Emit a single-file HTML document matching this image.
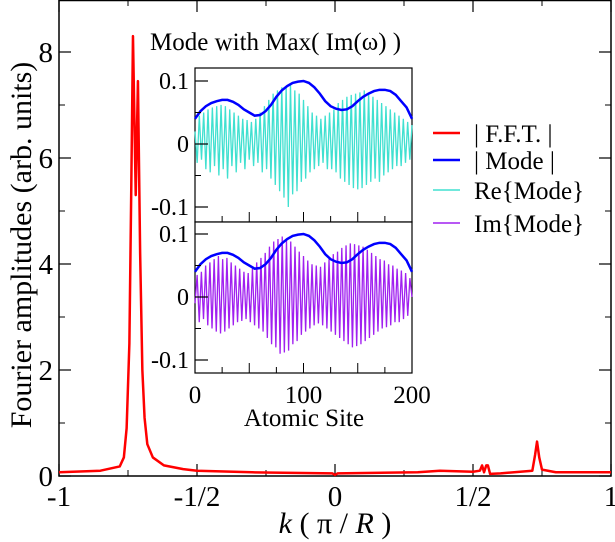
<!DOCTYPE html>
<html><head><meta charset="utf-8"><style>
body{margin:0;background:#fff}
svg{display:block}
svg text{font-family:"Liberation Serif","Times New Roman","DejaVu Serif",serif}
</style></head><body>
<svg width="615" height="542" viewBox="0 0 615 542" font-family="Liberation Serif, serif">
<g id="main"></g>
<g id="inset"></g>
<g font-size="25">
<line x1="433" y1="133" x2="460" y2="133" stroke="#ff0000" stroke-width="2.5"/>
<text x="474" y="142">| F.F.T. |</text>
<line x1="433" y1="160" x2="460" y2="160" stroke="#0000ff" stroke-width="2.5"/>
<text x="474" y="169">| Mode |</text>
<line x1="433" y1="190" x2="460" y2="190" stroke="#40e0d0" stroke-width="1.5"/>
<text x="474" y="199">Re{Mode}</text>
<line x1="433" y1="223" x2="460" y2="223" stroke="#a020f0" stroke-width="1.5"/>
<text x="474" y="232">Im{Mode}</text>
</g>
<text x="150" y="50" font-size="25">Mode with Max( Im(ω) )</text>
<text transform="translate(31,245) rotate(-90)" text-anchor="middle" font-size="30">Fourier amplitudes (arb. units)</text>
<text x="335" y="533" text-anchor="middle" font-size="30"><tspan font-style="italic">k</tspan> ( π / <tspan font-style="italic">R</tspan> )</text>
<text x="304" y="426" text-anchor="middle" font-size="25">Atomic Site</text>
</svg>
<script>
const fftK=[-1,-0.85,-0.78,-0.765,-0.755,-0.745,-0.738,-0.732,-0.722,-0.714,-0.706,-0.698,-0.69,-0.68,-0.66,-0.62,-0.55,-0.5,-0.3,-0.01,0,0.01,0.3,0.38,0.5,0.525,0.533,0.54,0.548,0.554,0.562,0.6,0.715,0.725,0.732,0.74,0.75,0.8,1];
const fftAmp=[0.07,0.1,0.18,0.35,0.9,2.5,5.5,8.3,5.3,7.45,4.2,2.0,1.1,0.6,0.35,0.2,0.13,0.1,0.07,0.05,0.02,0.05,0.07,0.1,0.08,0.1,0.2,0.07,0.2,0.2,0.04,0.05,0.1,0.4,0.65,0.35,0.12,0.07,0.07];
const xTicks=[-1,-0.5,0,0.5,1];
const xTickLabels=["-1","-1/2","0","1/2","1"];
const yTicks=[0,2,4,6,8];
const envSites=[0,5,10,15,20,25,30,35,40,45,50,55,60,65,70,75,80,85,90,95,100,105,110,115,120,125,130,135,140,145,150,155,160,165,170,175,180,185,190,195,200];
const envVals=[0.04,0.052,0.06,0.065,0.068,0.07,0.07,0.067,0.062,0.055,0.05,0.045,0.046,0.052,0.062,0.075,0.085,0.092,0.097,0.099,0.1,0.097,0.09,0.08,0.068,0.06,0.056,0.054,0.055,0.06,0.068,0.075,0.08,0.084,0.086,0.086,0.084,0.078,0.068,0.058,0.04];
const reVals=[20,-30,45,-25,50,-40,55,-45,58,-35,60,-50,62,-40,60,-55,55,-35,50,-45,45,-30,40,-40,38,-25,35,-35,40,-30,50,-45,60,-40,70,-55,80,-65,85,-75,90,-85,92,-100,95,-80,85,-75,80,-60,70,-55,60,-45,50,-40,45,-35,40,-30,45,-40,50,-40,55,-45,65,-55,70,-60,75,-65,78,-70,80,-72,82,-70,85,-65,80,-60,75,-55,70,-60,65,-50,60,-45,55,-40,50,-35,45,-35,40,-30,35,-25,30];
const imVals=[-10,35,-40,40,-35,50,-45,55,-50,60,-55,65,-58,60,-55,62,-50,55,-45,50,-40,45,-38,40,-35,38,-40,45,-45,55,-50,62,-55,70,-65,80,-75,88,-80,92,-90,96,-88,90,-85,88,-75,80,-70,72,-60,65,-55,58,-50,52,-45,50,-42,48,-45,55,-50,60,-55,68,-60,72,-65,78,-70,82,-75,85,-80,84,-78,82,-75,80,-70,75,-65,70,-60,65,-55,60,-50,58,-48,52,-45,50,-40,45,-40,42,-35,38,-30,30,0];
const NS="http://www.w3.org/2000/svg";
function mk(p,t,a){const e=document.createElementNS(NS,t);for(const k in a)e.setAttribute(k,a[k]);p.appendChild(e);return e;}
const X=k=>59+(k+1)*276, Y=v=>476-v*53;
const main=document.getElementById('main');
const frame=mk(main,'rect',{x:59,y:0.5,width:552,height:475.5,fill:'none',stroke:'#000','stroke-width':1.5});


xTicks.forEach((k,i)=>{
 mk(main,'line',{x1:X(k),y1:476,x2:X(k),y2:464,stroke:'#000','stroke-width':1.2});
 mk(main,'line',{x1:X(k),y1:0,x2:X(k),y2:12,stroke:'#000','stroke-width':1.2});
 const t=mk(main,'text',{x:X(k),y:506,'text-anchor':'middle','font-size':29});t.textContent=xTickLabels[i];
 
 
});
[-0.75,-0.25,0.25,0.75].forEach(k=>{mk(main,'line',{x1:X(k),y1:476,x2:X(k),y2:470,stroke:'#000'});mk(main,'line',{x1:X(k),y1:0,x2:X(k),y2:6,stroke:'#000'});});
yTicks.forEach(v=>{
 mk(main,'line',{x1:59,y1:Y(v),x2:71,y2:Y(v),stroke:'#000','stroke-width':1.2});
 mk(main,'line',{x1:611,y1:Y(v),x2:599,y2:Y(v),stroke:'#000','stroke-width':1.2});
 const t=mk(main,'text',{x:53,y:Y(v)+10,'text-anchor':'end','font-size':29});t.textContent=v;
 
 
});
[1,3,5,7].forEach(v=>{mk(main,'line',{x1:59,y1:Y(v),x2:65,y2:Y(v),stroke:'#000'});mk(main,'line',{x1:611,y1:Y(v),x2:605,y2:Y(v),stroke:'#000'});});
const fl=mk(main,'polyline',{points:fftK.map((k,i)=>X(k)+','+Y(fftAmp[i])).join(' '),fill:'none',stroke:'#ff0000','stroke-width':2.5,'stroke-linejoin':'round'});


const ins=document.getElementById('inset');
const IX=s=>195+s*1.085;
function panel(top,y0,vals,color,name){
 const IY=v=>y0-v*630;
 const bg=mk(ins,'rect',{x:195,y:top,width:217,height:(top<100?154:151),fill:'#fff',stroke:'#000','stroke-width':1.2});
 
 
 const n=vals.length;
 const l=mk(ins,'polyline',{points:vals.map((v,i)=>IX(i*200/(n-1))+','+IY(v/1000)).join(' '),fill:'none',stroke:color,'stroke-width':1.3});
 
 
 const e=mk(ins,'polyline',{points:envSites.map((s,i)=>IX(s)+','+IY(envVals[i])).join(' '),fill:'none',stroke:'#0000ff','stroke-width':2.5});
 
 
 [0.1,0,-0.1].forEach(v=>{
  mk(ins,'line',{x1:195,y1:IY(v),x2:208,y2:IY(v),stroke:'#000','stroke-width':1.2});
  const t=mk(ins,'text',{x:189,y:IY(v)+8,'text-anchor':'end','font-size':24});t.textContent=v===0?'0':(v>0?'0.1':'-0.1');
  
  
 });
 [0.05,-0.05].forEach(v=>mk(ins,'line',{x1:195,y1:IY(v),x2:201,y2:IY(v),stroke:'#000'}));
 const bot=top<100?222:373;
 [25,50,75,100,125,150,175].forEach(s=>mk(ins,'line',{x1:IX(s),y1:bot,x2:IX(s),y2:bot-(s%50?6:10),stroke:'#000'}));
}
panel(68,144,reVals,'#40e0d0','re-mode');
panel(222,297,imVals,'#a020f0','im-mode');
[0,100,200].forEach(s=>{const t=mk(ins,'text',{x:IX(s),y:403,'text-anchor':'middle','font-size':25});t.textContent=s;
 
 });
</script>
</body></html>
